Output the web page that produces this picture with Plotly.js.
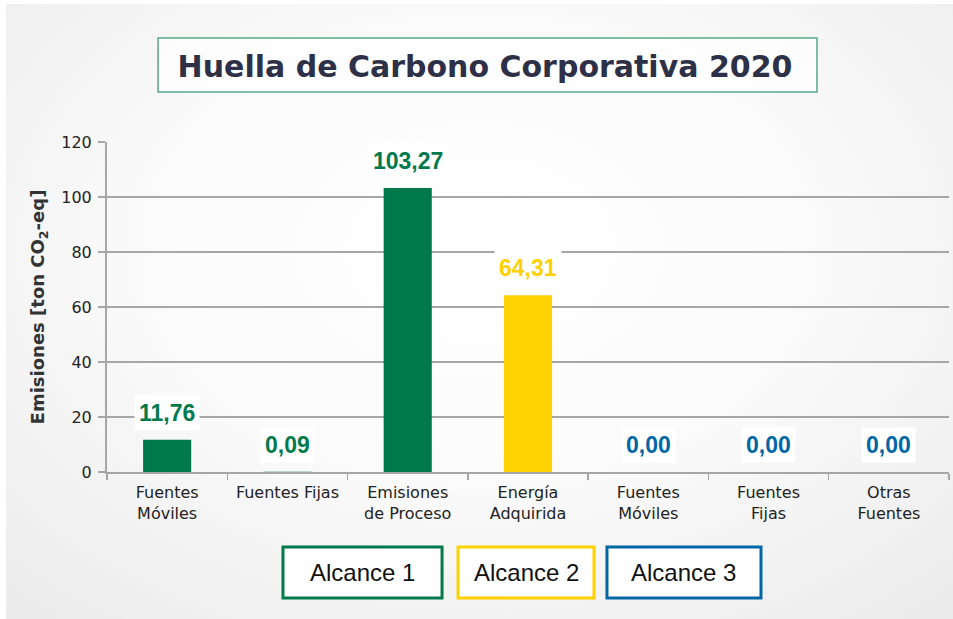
<!DOCTYPE html>
<html>
<head>
<meta charset="utf-8">
<script src="https://cdn.plot.ly/plotly-3.0.1.min.js"></script>
<style>
  html, body { margin: 0; padding: 0; width: 953px; height: 619px; overflow: hidden; background: #ffffff; }
  #bg { position: absolute; left: 6px; top: 4px; right: 0; bottom: 0;
        background: radial-gradient(ellipse 75% 80% at 50% 40%, #ffffff 0%, #fbfbfb 45%, #ebebeb 100%); }
  #chart { position: absolute; left: 0; top: 0; width: 953px; height: 619px; }
</style>
</head>
<body>
<div id="bg"></div>
<div id="chart"></div>
<script>
// ---- data ----
const categories = ['Fuentes<br>Móviles', 'Fuentes Fijas', 'Emisiones<br>de Proceso', 'Energía<br>Adquirida', 'Fuentes<br>Móviles', 'Fuentes<br>Fijas', 'Otras<br>Fuentes'];
const values = [11.76, 0.09, 103.27, 64.31, 0.00, 0.00, 0.00];
const scopeOf = [0, 0, 0, 1, 2, 2, 2];
const scopeNames = ['Alcance 1', 'Alcance 2', 'Alcance 3'];
const scopeColors = ['#007a4d', '#ffd100', '#0067a6'];
const yTicks = [0, 20, 40, 60, 80, 100, 120];
const chartTitle = 'Huella de Carbono Corporativa 2020';
const yTitle = 'Emisiones [ton CO<sub>2</sub>-eq]';

// ---- build ----
const keys = categories.map((c, i) => 'cat' + i);
const fmt = v => v.toFixed(2).replace('.', ',');

const trace = {
  type: 'bar',
  x: keys,
  y: values,
  width: 0.4,
  marker: { color: scopeOf.map(s => scopeColors[s]) },
  hoverinfo: 'skip',
  showlegend: false
};

const labelAnns = values.map((v, i) => ({
  x: keys[i], y: v, xref: 'x', yref: 'y',
  text: fmt(v), showarrow: false,
  yanchor: 'bottom', yshift: 9,
  font: { family: 'Liberation Sans, Arial, sans-serif', size: 23, weight: 700, color: scopeColors[scopeOf[i]] },
  bgcolor: '#ffffff', borderpad: 4
}));

// legend boxes (paper coordinates relative to plot area)
const legendX = [[0.2090, 0.3979], [0.4169, 0.5784], [0.5938, 0.7767]];
const legY0 = -0.3818, legY1 = -0.2273;
const legendShapes = scopeNames.map((n, i) => ({
  type: 'rect', xref: 'paper', yref: 'paper',
  x0: legendX[i][0], x1: legendX[i][1], y0: legY0, y1: legY1,
  line: { color: scopeColors[i], width: 3 }, fillcolor: '#ffffff', layer: 'above'
}));
const legendAnns = scopeNames.map((n, i) => ({
  xref: 'paper', yref: 'paper',
  x: (legendX[i][0] + legendX[i][1]) / 2, y: (legY0 + legY1) / 2,
  xanchor: 'center', yanchor: 'middle', showarrow: false,
  text: n, font: { family: 'Liberation Sans, Arial, sans-serif', size: 24, color: '#111111' }
}));

const titleBox = {
  type: 'rect', xref: 'paper', yref: 'paper',
  x0: 0.0606, x1: 0.8432, y0: 1.1515, y1: 1.3152,
  line: { color: '#5aa888', width: 1.5 }, fillcolor: 'rgba(255,255,255,0.7)', layer: 'below'
};

const layout = {
  width: 953, height: 619,
  margin: { l: 107, r: 4, t: 142, b: 147 },
  paper_bgcolor: 'rgba(0,0,0,0)',
  plot_bgcolor: 'rgba(0,0,0,0)',
  title: {
    text: chartTitle,
    x: 485 / 953, xref: 'container', xanchor: 'center',
    y: 1 - 66 / 619, yref: 'container', yanchor: 'middle',
    font: { family: 'DejaVu Sans, sans-serif', size: 30, weight: 700, color: '#2d3047' }
  },
  xaxis: {
    type: 'category',
    tickmode: 'array', tickvals: keys, ticktext: categories,
    tickson: 'boundaries',
    ticks: 'outside', ticklen: 6, tickwidth: 1.5, tickcolor: '#a6a6a6',
    ticklabelstandoff: 5,
    showline: true, linecolor: '#a6a6a6', linewidth: 2,
    showgrid: false, zeroline: false,
    tickfont: { family: 'DejaVu Sans, sans-serif', size: 16, color: '#222222' },
    fixedrange: true
  },
  yaxis: {
    range: [0, 120],
    tickmode: 'array', tickvals: yTicks,
    ticks: 'outside', ticklen: 7, tickwidth: 1.5, tickcolor: '#a6a6a6',
    ticklabelstandoff: 3,
    showline: true, linecolor: '#a6a6a6', linewidth: 2,
    showgrid: true, gridcolor: '#a6a6a6', gridwidth: 1.5,
    zeroline: false,
    tickfont: { family: 'DejaVu Sans, sans-serif', size: 16, color: '#222222' },
    title: {
      text: yTitle, standoff: 12,
      font: { family: 'DejaVu Sans, sans-serif', size: 18, weight: 700, color: '#333333' }
    },
    fixedrange: true
  },
  shapes: [titleBox].concat(legendShapes),
  annotations: labelAnns.concat(legendAnns),
  showlegend: false
};

Plotly.newPlot('chart', [trace], layout, { displayModeBar: false, staticPlot: true });
</script>
</body>
</html>
